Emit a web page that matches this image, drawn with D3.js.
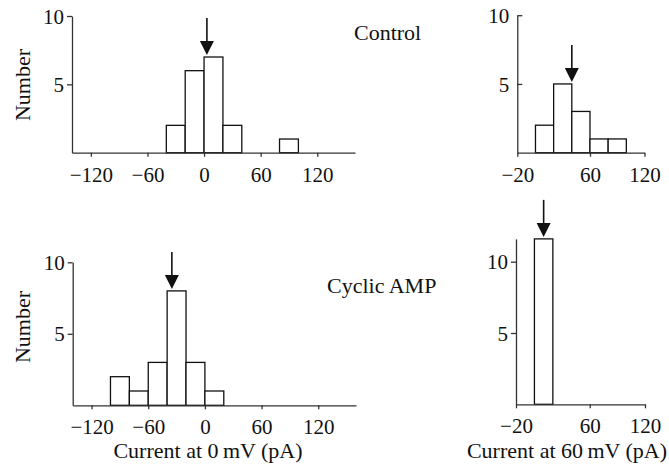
<!DOCTYPE html>
<html>
<head>
<meta charset="utf-8">
<script src="https://cdn.jsdelivr.net/npm/d3@7"></script>
<style>
  body { margin: 0; background: #fff; }
  text { font-family: "Liberation Serif", "Times New Roman", serif; fill: #111; }
</style>
</head>
<body>
<div id="chart"></div>
<script>

// histogram data, bin width 20 pA
var binWidth = 20;

var controlZeroStarts = [-40, -20, 0, 20, 80];
var controlZeroCounts = [2, 6, 7, 2, 1];
var controlZeroMean = 3;

var controlSixtyStarts = [0, 20, 40, 60, 80];
var controlSixtyCounts = [2, 5, 3, 1, 1];
var controlSixtyMean = 40;

var campZeroStarts = [-100, -80, -60, -40, -20, 0];
var campZeroCounts = [2, 1, 3, 8, 3, 1];
var campZeroMean = -35;

var campSixtyStarts = [0];
var campSixtyCounts = [11.6];
var campSixtyMean = 10;

// tick labels
var zeroTicks = [-120, -60, 0, 60, 120];
var sixtyTicks = [-20, 60, 120];
var yTicks = [5, 10];

var width = 669, height = 468;

var svg = d3.select("#chart").append("svg")
	.attr("width", width)
	.attr("height", height);

function fmt(d) { return d < 0 ? "\u2212" + (-d) : String(d); }

function panel(opt) {
	var x = d3.scaleLinear().domain(opt.xDomain).range(opt.xRange);
	var y = d3.scaleLinear().domain([0, opt.yMax])
		.range([opt.base, opt.base - opt.yMax * opt.unit]);

	var g = svg.append("g");

	// bars
	g.selectAll("rect.bar")
		.data(opt.starts.map(function(s, i) { return { start: s, count: opt.counts[i] }; }))
		.enter().append("rect")
		.attr("class", "bar")
		.attr("x", function(d) { return x(d.start); })
		.attr("y", function(d) { return y(d.count); })
		.attr("width", function(d) { return x(d.start + binWidth) - x(d.start); })
		.attr("height", function(d) { return y(0) - y(d.count); })
		.attr("fill", "#fff")
		.attr("stroke", "#111")
		.attr("stroke-width", 1.3);

	// x axis
	var xa = g.append("g")
		.attr("transform", "translate(0," + opt.base + ")")
		.call(d3.axisBottom(x).tickValues(opt.xTicks).tickFormat(fmt)
			.tickSizeInner(4).tickSizeOuter(0).tickPadding(10));
	xa.selectAll("text").attr("font-size", 21);

	// y axis
	var ya = g.append("g")
		.attr("transform", "translate(" + opt.xRange[0] + ",0)")
		.call(d3.axisLeft(y).tickValues(yTicks).tickFormat(fmt)
			.tickSizeInner(opt.inward ? -5 : 5).tickSizeOuter(0));
	ya.selectAll("text").attr("font-size", 21).attr("x", -8).attr("dy", "0.34em");

	g.selectAll(".domain, .tick line").attr("stroke", "#333").attr("stroke-width", 1.3);

	// arrow marking the mean
	var touching = opt.starts
		.map(function(s, i) { return { start: s, count: opt.counts[i] }; })
		.filter(function(d) { return d.start <= opt.mean && opt.mean <= d.start + binWidth; });
	var top = d3.max(touching, function(d) { return d.count; }) || 0;
	var tip = y(top) - 2;
	var ax = x(opt.mean);
	g.append("line")
		.attr("x1", ax).attr("x2", ax)
		.attr("y1", tip - 37).attr("y2", tip - 12)
		.attr("stroke", "#111").attr("stroke-width", 1.6);
	g.append("path")
		.attr("d", "M" + (ax - 7) + "," + (tip - 14) + "L" + (ax + 7) + "," + (tip - 14) + "L" + ax + "," + tip + "Z")
		.attr("fill", "#111");

	return g;
}

panel({ starts: controlZeroStarts, counts: controlZeroCounts, mean: controlZeroMean,
	xDomain: [-140, 160], xRange: [72, 355], xTicks: zeroTicks,
	base: 152.7, unit: 13.67, yMax: 10, inward: false });

panel({ starts: campZeroStarts, counts: campZeroCounts, mean: campZeroMean,
	xDomain: [-140, 160], xRange: [72.7, 356], xTicks: zeroTicks,
	base: 405.3, unit: 14.3, yMax: 10, inward: false });

panel({ starts: controlSixtyStarts, counts: controlSixtyCounts, mean: controlSixtyMean,
	xDomain: [-20, 120], xRange: [517.3, 644.5], xTicks: sixtyTicks,
	base: 152.7, unit: 13.75, yMax: 10, inward: true });

panel({ starts: campSixtyStarts, counts: campSixtyCounts, mean: campSixtyMean,
	xDomain: [-20, 120], xRange: [516, 645], xTicks: sixtyTicks,
	base: 404.3, unit: 14.26, yMax: 11.6, inward: false });

// labels
svg.append("text").attr("x", 354).attr("y", 40).attr("font-size", 22).text("Control");
svg.append("text").attr("x", 327).attr("y", 293).attr("font-size", 22).text("Cyclic AMP");

svg.append("text").attr("transform", "translate(30,85) rotate(-90)")
	.attr("text-anchor", "middle").attr("font-size", 22).text("Number");
svg.append("text").attr("transform", "translate(30,327) rotate(-90)")
	.attr("text-anchor", "middle").attr("font-size", 22).text("Number");

svg.append("text").attr("x", 208).attr("y", 458).attr("text-anchor", "middle")
	.attr("font-size", 22).text("Current at 0\u2009mV (pA)");
svg.append("text").attr("x", 567).attr("y", 458).attr("text-anchor", "middle")
	.attr("font-size", 22).text("Current at 60\u2009mV (pA)");

</script>
</body>
</html>
